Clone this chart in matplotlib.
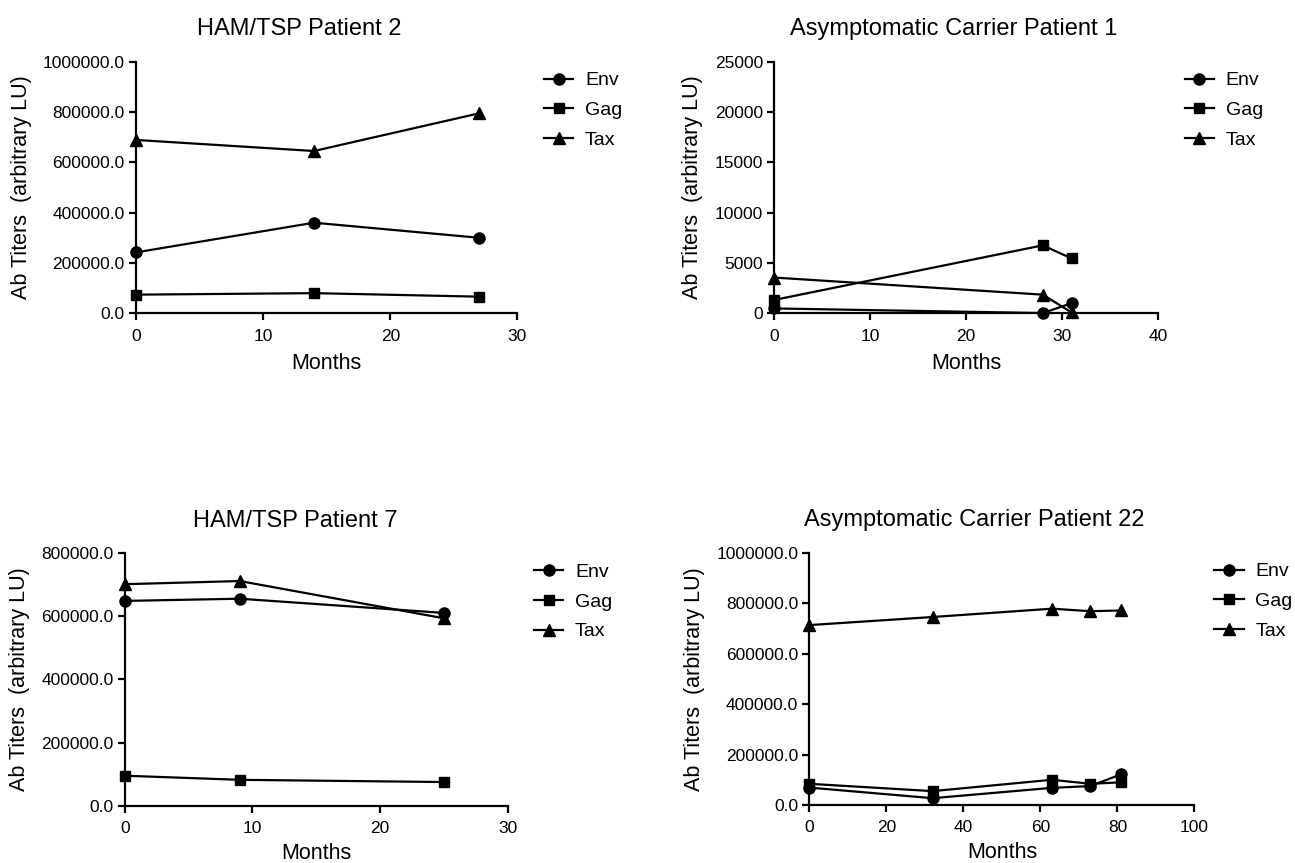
import matplotlib
matplotlib.use("Agg")
import matplotlib.pyplot as plt
from matplotlib.ticker import FormatStrFormatter

plt.rcParams['font.family'] = ['Liberation Sans', 'DejaVu Sans']

# HAM/TSP Patient 2
p2_months = [0, 14, 27]
p2_env = [242000, 360000, 300000]
p2_gag = [74000, 80000, 66000]
p2_tax = [689000, 645000, 795000]

# Asymptomatic Carrier Patient 1
ac1_months = [0, 28, 31]
ac1_env = [480, 20, 1000]
ac1_gag = [1320, 6750, 5450]
ac1_tax = [3550, 1850, 80]

# HAM/TSP Patient 7
p7_months = [0, 9, 25]
p7_env = [649000, 656000, 611000]
p7_gag = [95000, 82000, 75000]
p7_tax = [702000, 712000, 594000]

# Asymptomatic Carrier Patient 22
ac22_months = [0, 32, 63, 73, 81]
ac22_env = [69000, 27000, 68000, 75000, 122000]
ac22_gag = [84000, 55000, 100000, 84000, 90000]
ac22_tax = [713000, 745000, 778000, 768000, 771000]

panels = [
    ("HAM/TSP Patient 2", p2_months, p2_env, p2_gag, p2_tax,
     [0, 10, 20, 30], [0, 200000, 400000, 600000, 800000, 1000000], '%.1f',
     [0.105, 0.637, 0.2946, 0.2915], 0.427, 1.07),
    ("Asymptomatic Carrier Patient 1", ac1_months, ac1_env, ac1_gag, ac1_tax,
     [0, 10, 20, 30, 40], [0, 5000, 10000, 15000, 20000, 25000], '%d',
     [0.5977, 0.637, 0.2965, 0.2915], 0.469, 1.07),
    ("HAM/TSP Patient 7", p7_months, p7_env, p7_gag, p7_tax,
     [0, 10, 20, 30], [0, 200000, 400000, 600000, 800000], '%.1f',
     [0.0965, 0.0664, 0.2954, 0.2925], 0.444, 1.07),
    ("Asymptomatic Carrier Patient 22", ac22_months, ac22_env, ac22_gag, ac22_tax,
     [0, 20, 40, 60, 80, 100], [0, 200000, 400000, 600000, 800000, 1000000], '%.1f',
     [0.625, 0.0672, 0.2973, 0.2924], 0.427, 1.052),
]

fig = plt.figure(figsize=(12.95, 8.63), dpi=100)

for i, (title, months, env, gag, tax, xt, yt, fmt, rect, tx, lx) in enumerate(panels):
    ax = fig.add_axes(rect)
    ax.plot(months, env, color='black', lw=1.6, marker='o', ms=8, label='Env', clip_on=False, zorder=3)
    ax.plot(months, gag, color='black', lw=1.6, marker='s', ms=7.5, label='Gag', clip_on=False, zorder=3)
    ax.plot(months, tax, color='black', lw=1.6, marker='^', ms=8.5, label='Tax', clip_on=False, zorder=3)
    ax.set_xlim(xt[0], xt[-1])
    ax.set_ylim(yt[0], yt[-1])
    ax.set_xticks(xt)
    ax.set_yticks(yt)
    ax.yaxis.set_major_formatter(FormatStrFormatter(fmt))
    for s in ['top', 'right']:
        ax.spines[s].set_visible(False)
    for s in ['left', 'bottom']:
        ax.spines[s].set_linewidth(1.6)
    ax.tick_params(direction='out', length=5, width=1.6, labelsize=12.5, pad=3)
    ax.tick_params(axis='x', pad=6)
    # bottom row sits close to the figure edge
    ax.set_xlabel('Months', fontsize=15.5, labelpad=7 if i < 2 else 5)
    ax.set_ylabel('Ab Titers  (arbitrary LU)', fontsize=15.5, labelpad=8)
    ax.set_title(title, fontsize=17, x=tx, pad=19)
    ax.legend(loc='upper left', bbox_to_anchor=(lx, 0.96), frameon=False,
              borderpad=0, borderaxespad=0, handlelength=1.5, handletextpad=0.6,
              labelspacing=0.62, fontsize=14)

fig.savefig('out.png', dpi=100)
